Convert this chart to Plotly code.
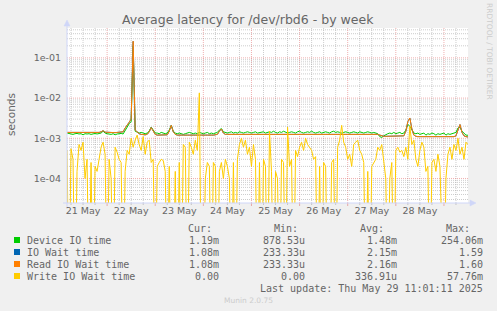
import datetime as dt
import math
import plotly.graph_objects as go

# ---------------- data (hourly samples, milliseconds) ----------------
start_time = dt.datetime(2025, 5, 21, 4, 0)
n_hours = 200

device_io_ms = [
    1.35, 1.30, 1.30, 1.25, 1.30, 1.32, 1.28, 1.30, 1.22, 1.30,
    1.28, 1.30, 1.25, 1.30, 1.32, 1.28, 1.30, 1.35, 1.50, 1.35,
    1.30, 1.28, 1.25, 1.30, 1.22, 1.28, 1.30, 1.32, 1.28, 1.60,
    1.90, 2.30, 2.60, 200, 1.50, 1.40, 1.35, 1.40, 1.35, 1.30,
    1.35, 1.50, 1.90, 1.60, 1.35, 1.35, 1.30, 1.40, 1.35, 1.30,
    1.35, 1.60, 2.10, 1.50, 1.35, 1.30, 1.35, 1.30, 1.25, 1.30,
    1.35, 1.40, 1.35, 1.30, 1.35, 1.30, 1.40, 1.35, 1.30, 1.35,
    1.40, 1.30, 1.35, 1.30, 1.35, 1.40, 1.60, 1.75, 1.45, 1.40,
    1.35, 1.40, 1.45, 1.35, 1.40, 1.35, 1.45, 1.40, 1.35, 1.40,
    1.45, 1.40, 1.35, 1.40, 1.45, 1.35, 1.40, 1.40, 1.45, 1.35,
    1.40, 1.45, 1.40, 1.50, 1.40, 1.35, 1.45, 1.40, 1.50, 1.40,
    1.35, 1.40, 1.45, 1.40, 1.35, 1.45, 1.50, 1.40, 1.35, 1.40,
    1.45, 1.40, 1.50, 1.40, 1.35, 1.40, 1.45, 1.35, 1.40, 1.45,
    1.40, 1.35, 1.45, 1.50, 1.40, 1.45, 1.40, 1.35, 1.40, 1.45,
    1.40, 1.35, 1.40, 1.45, 1.40, 1.35, 1.45, 1.40, 1.35, 1.40,
    1.45, 1.40, 1.35, 1.40, 1.35, 1.30, 1.10, 1.05, 1.15, 1.25,
    1.30, 1.35, 1.30, 1.40, 1.30, 1.35, 1.40, 1.30, 1.35, 1.60,
    2.20, 2.00, 1.60, 1.35, 1.30, 1.35, 1.25, 1.30, 1.35, 1.20,
    1.30, 1.25, 1.35, 1.30, 1.20, 1.30, 1.25, 1.30, 1.35, 1.20,
    1.30, 1.25, 1.30, 1.35, 1.40, 1.80, 1.90, 1.50, 1.30, 1.20,
    1.19,
]

io_wait_ms = [
    1.40, 1.40, 1.38, 1.40, 1.38, 1.40, 1.40, 1.38, 1.40, 1.40,
    1.38, 1.40, 1.40, 1.38, 1.40, 1.40, 1.40, 1.45, 1.55, 1.42,
    1.40, 1.38, 1.40, 1.40, 1.38, 1.40, 1.40, 1.42, 1.45, 1.80,
    2.20, 2.50, 3.00, 258, 1.60, 1.40, 1.30, 1.25, 1.22, 1.22,
    1.25, 1.45, 1.85, 1.50, 1.25, 1.20, 1.20, 1.22, 1.20, 1.20,
    1.22, 1.50, 2.10, 1.45, 1.25, 1.20, 1.22, 1.20, 1.20, 1.22,
    1.20, 1.20, 1.22, 1.20, 1.20, 1.22, 1.20, 1.20, 1.22, 1.20,
    1.20, 1.22, 1.20, 1.20, 1.22, 1.25, 1.50, 1.70, 1.35, 1.25,
    1.25, 1.25, 1.28, 1.25, 1.25, 1.28, 1.25, 1.25, 1.28, 1.25,
    1.25, 1.28, 1.25, 1.25, 1.28, 1.25, 1.25, 1.28, 1.25, 1.25,
    1.28, 1.28, 1.28, 1.30, 1.28, 1.28, 1.28, 1.30, 1.28, 1.28,
    1.28, 1.30, 1.28, 1.28, 1.28, 1.30, 1.28, 1.28, 1.28, 1.30,
    1.28, 1.28, 1.30, 1.28, 1.28, 1.28, 1.30, 1.28, 1.28, 1.28,
    1.30, 1.28, 1.28, 1.28, 1.30, 1.28, 1.28, 1.28, 1.30, 1.28,
    1.28, 1.28, 1.30, 1.28, 1.28, 1.28, 1.30, 1.28, 1.28, 1.28,
    1.28, 1.28, 1.26, 1.26, 1.26, 1.25, 1.20, 1.15, 1.12, 1.12,
    1.12, 1.12, 1.12, 1.12, 1.12, 1.12, 1.12, 1.12, 1.15, 1.50,
    2.60, 3.20, 1.70, 1.20, 1.12, 1.10, 1.10, 1.10, 1.12, 1.10,
    1.10, 1.10, 1.12, 1.10, 1.10, 1.10, 1.12, 1.10, 1.10, 1.10,
    1.12, 1.10, 1.10, 1.10, 1.15, 1.60, 2.20, 1.40, 1.15, 1.10,
    1.08,
]

read_wait_ms = [
    1.40, 1.40, 1.38, 1.40, 1.38, 1.40, 1.40, 1.38, 1.40, 1.40,
    1.38, 1.40, 1.40, 1.38, 1.40, 1.40, 1.40, 1.45, 1.55, 1.42,
    1.40, 1.38, 1.40, 1.40, 1.38, 1.40, 1.40, 1.42, 1.45, 1.80,
    2.20, 2.50, 3.00, 260, 1.60, 1.40, 1.30, 1.25, 1.22, 1.22,
    1.25, 1.45, 1.85, 1.50, 1.25, 1.20, 1.20, 1.22, 1.20, 1.20,
    1.22, 1.50, 2.10, 1.45, 1.25, 1.20, 1.22, 1.20, 1.20, 1.22,
    1.20, 1.20, 1.22, 1.20, 1.20, 1.22, 1.20, 1.20, 1.22, 1.20,
    1.20, 1.22, 1.20, 1.20, 1.22, 1.25, 1.50, 1.70, 1.35, 1.25,
    1.25, 1.25, 1.28, 1.25, 1.25, 1.28, 1.25, 1.25, 1.28, 1.25,
    1.25, 1.28, 1.25, 1.25, 1.28, 1.25, 1.25, 1.28, 1.25, 1.25,
    1.28, 1.28, 1.28, 1.30, 1.28, 1.28, 1.28, 1.30, 1.28, 1.28,
    1.28, 1.30, 1.28, 1.28, 1.28, 1.30, 1.28, 1.28, 1.28, 1.30,
    1.28, 1.28, 1.30, 1.28, 1.28, 1.28, 1.30, 1.28, 1.28, 1.28,
    1.30, 1.28, 1.28, 1.28, 1.30, 1.28, 1.28, 1.28, 1.30, 1.28,
    1.28, 1.28, 1.30, 1.28, 1.28, 1.28, 1.30, 1.28, 1.28, 1.28,
    1.28, 1.28, 1.26, 1.26, 1.26, 1.25, 1.20, 1.15, 1.12, 1.12,
    1.12, 1.12, 1.12, 1.12, 1.12, 1.12, 1.12, 1.12, 1.15, 1.50,
    2.60, 3.20, 1.70, 1.20, 1.12, 1.10, 1.10, 1.10, 1.12, 1.10,
    1.10, 1.10, 1.12, 1.10, 1.10, 1.10, 1.12, 1.10, 1.10, 1.10,
    1.12, 1.10, 1.10, 1.10, 1.15, 1.60, 2.20, 1.40, 1.15, 1.10,
    1.08,
]

write_wait_ms = [
    0.5, 0, 0.55, 0.3, 0, 0.15, 0.7, 0.5, 0.8, 0.1,
    0.3, 0, 0.25, 0, 0.2, 0.15, 0.3, 0.6, 0.8, 0.4,
    0, 0.3, 0.1, 0, 0.6, 0.45, 0.3, 0.25, 0, 0.15,
    0.5, 0.4, 1.0, 0.6, 0.9, 1.2, 0.7, 0.5, 1.1, 0.4,
    0.8, 0.9, 0.25, 0.3, 0, 0.2, 0.25, 0.3, 0.28, 0.15,
    0, 0.2, 0, 0, 0.15, 0, 0.25, 0, 0.7, 0.6,
    0, 0.8, 0.6, 0.4, 0.9, 0.5, 13.5, 0, 0, 0.1,
    0.25, 0.2, 0, 0.25, 0.2, 0, 0.15, 0.25, 0.1, 0.3,
    0.2, 0.1, 0, 0.25, 0, 0.3, 0.7, 1.0, 0.6, 0.9,
    0.4, 0.6, 0.2, 0.7, 0.3, 0, 0.25, 0, 0.3, 0.2,
    0, 1.5, 0.15, 0, 0.15, 0.1, 0, 0.3, 0.25, 0,
    1.9, 0.2, 0.3, 0, 0.5, 0.35, 0.6, 0.8, 0.5, 1.0,
    0.7, 0.6, 0.5, 0.3, 0.35, 0, 0.2, 0, 0.25, 0.2,
    0, 0, 0.25, 0.3, 0, 0.6, 0.9, 2.1, 0.8, 0.6,
    0.3, 0.4, 0.2, 0.7, 0.8, 0.9, 0.5, 0.4, 0.25, 0,
    0.15, 0, 0.2, 0.25, 0.3, 0.6, 0.5, 0.7, 0.25, 0.1,
    0, 0.1, 0.25, 0, 0.5, 0.6, 0.45, 0.5, 0.35, 0.6,
    0.3, 2.0, 0.7, 0.9, 0.3, 0.2, 0.5, 0.8, 0.6, 0.15,
    0.2, 0, 0.25, 0.3, 0.15, 0.4, 0.2, 0, 0, 0.1,
    0.4, 0.6, 0.3, 0.7, 0.5, 1.0, 0.4, 0.6, 0.3, 0.8,
    0.7,
]

series_names = ["Device IO time", "IO Wait time", "Read IO Wait time", "Write IO Wait time"]
series_colors = ["#00CC00", "#0066B3", "#FF8000", "#FFCC00"]
cur_vals = ["1.19m", "1.08m", "1.08m", "0.00"]
min_vals = ["878.53u", "233.33u", "233.33u", "0.00"]
avg_vals = ["1.48m", "2.15m", "2.16m", "336.91u"]
max_vals = ["254.06m", "1.59", "1.60", "57.76m"]
day_labels = ["21 May", "22 May", "23 May", "24 May", "25 May", "26 May", "27 May", "28 May"]
ytick_vals = [1e-4, 1e-3, 1e-2, 1e-1]
ytick_text = ["1e-04", "1e-03", "1e-02", "1e-01"]

# ---------------- geometry ----------------
W, H = 497, 311
PL, PR, PT, PB = 67, 468, 28, 203
FONT = "#666666"
AXIS = "#CFD6F8"
GRID = "rgba(143,143,143,0.45)"
MGRID = "rgba(222,79,79,0.45)"
Y_LOG_RANGE = [-4.61, -0.256]


def pxx(x):
    return (x - PL) / (PR - PL)


def pxy(y):
    return (PB - y) / (PB - PT)


times = [start_time + dt.timedelta(hours=i) for i in range(n_hours + 1)]
end_time = start_time + dt.timedelta(hours=n_hours)
FLOOR = 1e-7  # zero values drawn below the log axis


def to_seconds(vals):
    return [v / 1000.0 if v > 0 else FLOOR for v in vals]


fig = go.Figure()
for name, col, vals in zip(series_names, series_colors,
                           [device_io_ms, io_wait_ms, read_wait_ms, write_wait_ms]):
    fig.add_trace(go.Scatter(x=times, y=to_seconds(vals), mode="lines", name=name,
                             line=dict(color=col, width=1), showlegend=False,
                             hoverinfo="skip"))

shapes = []
# vertical grid: every 6 hours, major at midnight
t = dt.datetime(2025, 5, 21, 6)
while t < end_time:
    major = t.hour == 0
    shapes.append(dict(type="line", xref="x", yref="paper", x0=t, x1=t, y0=0, y1=1,
                       layer="below", line=dict(color=MGRID if major else GRID, width=1,
                                                dash="1px,1px")))
    shapes.append(dict(type="line", xref="x", yref="paper", x0=t, x1=t, y0=0,
                       y1=-(3 if major else 2) / (PB - PT),
                       line=dict(color=MGRID if major else GRID, width=1)))
    t += dt.timedelta(hours=6)

# horizontal grid
for k in range(-5, 0):
    for m in range(1, 10):
        v = m * 10 ** k
        lv = math.log10(v)
        if Y_LOG_RANGE[0] < lv < Y_LOG_RANGE[1]:
            shapes.append(dict(type="line", xref="paper", yref="y", x0=0, x1=1, y0=v, y1=v,
                               layer="below",
                               line=dict(color=MGRID if m == 1 else GRID, width=1,
                                         dash="1px,1px")))

# axes with arrows
shapes.append(dict(type="line", xref="paper", yref="paper", x0=pxx(67), x1=pxx(67),
                   y0=pxy(207), y1=pxy(24), line=dict(color=AXIS, width=1)))
shapes.append(dict(type="line", xref="paper", yref="paper", x0=pxx(63), x1=pxx(472),
                   y0=pxy(203), y1=pxy(203), line=dict(color=AXIS, width=1)))
shapes.append(dict(type="path", xref="paper", yref="paper",
                   path=f"M {pxx(64)} {pxy(26)} L {pxx(67)} {pxy(20)} L {pxx(70)} {pxy(26)} Z",
                   fillcolor=AXIS, line=dict(color=AXIS, width=0.5)))
shapes.append(dict(type="path", xref="paper", yref="paper",
                   path=f"M {pxx(470)} {pxy(200)} L {pxx(476)} {pxy(203)} L {pxx(470)} {pxy(206)} Z",
                   fillcolor=AXIS, line=dict(color=AXIS, width=0.5)))

# legend squares
row_y = [240, 252, 264, 276]
for col, ry in zip(series_colors, row_y):
    shapes.append(dict(type="rect", xref="paper", yref="paper",
                       x0=pxx(14), x1=pxx(20), y0=pxy(ry + 3), y1=pxy(ry - 3),
                       fillcolor=col, line=dict(width=0)))

ann = []


def text(x, y, s, size, anchor="left", font="DejaVu Sans Mono", color=FONT, angle=0):
    ann.append(dict(x=pxx(x), y=pxy(y), xref="paper", yref="paper", text=s,
                    showarrow=False, xanchor=anchor, yanchor="middle", textangle=angle,
                    font=dict(family=font, size=size, color=color), borderpad=0))


text(248, 19, "Average latency for /dev/rbd6 - by week", 12.5, "center", "DejaVu Sans")
text(11, 115, "seconds", 10.5, "center", "DejaVu Sans", angle=-90)
text(490, 52, "RRDTOOL / TOBI OETIKER", 7.5, "center", "DejaVu Sans", "#CCCCCC", angle=90)
text(248, 300, "Munin 2.0.75", 7.5, "center", "DejaVu Sans", "#CCCCCC")

text(213, 228, "Cur:", 10, "right")
text(299, 228, "Min:", 10, "right")
text(385, 228, "Avg:", 10, "right")
text(471, 228, "Max:", 10, "right")
for name, ry, c, mn, av, mx in zip(series_names, row_y, cur_vals, min_vals, avg_vals, max_vals):
    text(26, ry, name, 10, "left")
    text(220, ry, c, 10, "right")
    text(306, ry, mn, 10, "right")
    text(398, ry, av, 10, "right")
    text(484, ry, mx, 10, "right")
text(484, 288, "Last update: Thu May 29 11:01:11 2025", 10, "right")

noon_ticks = [dt.datetime(2025, 5, 21 + d, 12) for d in range(len(day_labels))]

fig.update_layout(
    width=W, height=H,
    margin=dict(l=PL, r=W - PR, t=PT, b=H - PB),
    paper_bgcolor="#F0F0F0", plot_bgcolor="#FFFFFF",
    shapes=shapes, annotations=ann,
    xaxis=dict(range=[start_time, end_time], tickvals=noon_ticks, ticktext=day_labels,
               showgrid=False, zeroline=False, showline=False, ticks="", ticklen=0,
               tickfont=dict(family="DejaVu Sans", size=9.5, color=FONT), fixedrange=True),
    yaxis=dict(type="log", range=Y_LOG_RANGE, tickvals=ytick_vals, ticktext=ytick_text,
               showgrid=False, zeroline=False, showline=False, ticks="outside", ticklen=3,
               tickcolor="rgba(0,0,0,0)",
               tickfont=dict(family="DejaVu Sans", size=9.5, color=FONT), fixedrange=True),
    showlegend=False,
)

fig.write_html("out.html")
